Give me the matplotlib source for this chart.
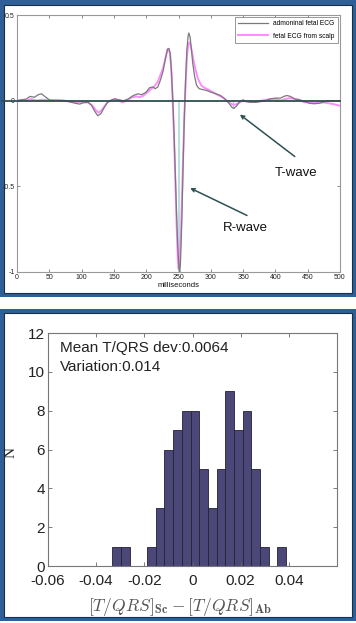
import matplotlib
matplotlib.use("Agg")
import matplotlib.pyplot as plt
import numpy as np
from matplotlib.patches import Rectangle

plt.rcParams['font.family'] = ['Liberation Sans', 'DejaVu Sans']
plt.rcParams['mathtext.fontset'] = 'cm'

# ---------------- data: ECG (top panel) ----------------
abd_t = [0, 8, 15, 20, 27, 33, 38, 43, 50, 60, 70, 80, 90, 97, 103, 110, 115, 120, 125, 130,
         135, 140, 147, 152, 158, 165, 172, 180, 187, 193, 200, 205, 210, 214, 218, 222, 226,
         230, 233, 235, 237, 239, 241, 243, 245, 247, 249, 251, 252, 253, 255, 257, 259, 261,
         263, 265, 266, 268, 270, 272, 275, 278, 282, 287, 293, 300, 308, 315, 322, 328, 333,
         336, 340, 345, 350, 355, 362, 370, 378, 385, 392, 400, 408, 413, 418, 423, 430, 437,
         445, 452, 460, 468, 475, 482, 490, 500]
abd_v = [0.0, 0.005, 0.01, 0.025, 0.02, 0.035, 0.04, 0.025, 0.005, 0.0, 0.0, -0.005, -0.015,
         -0.02, -0.012, -0.01, -0.025, -0.06, -0.088, -0.075, -0.04, -0.01, 0.005, 0.01, 0.005,
         0.0, 0.01, 0.03, 0.04, 0.035, 0.05, 0.075, 0.08, 0.07, 0.08, 0.12, 0.17, 0.25, 0.30,
         0.305, 0.28, 0.18, 0.02, -0.18, -0.42, -0.66, -0.86, -0.99, -1.0, -0.95, -0.72, -0.4,
         -0.1, 0.12, 0.3, 0.38, 0.395, 0.37, 0.30, 0.22, 0.14, 0.09, 0.07, 0.065, 0.06, 0.05,
         0.04, 0.03, 0.01, -0.015, -0.04, -0.045, -0.03, -0.005, 0.005, -0.005, -0.01, -0.01,
         -0.005, 0.0, 0.01, 0.015, 0.015, 0.025, 0.03, 0.025, 0.01, 0.005, -0.005, -0.015,
         -0.018, -0.015, -0.008, 0.0, 0.0, 0.0]

scalp_t = [0, 8, 15, 22, 30, 38, 45, 52, 60, 70, 80, 90, 100, 110, 117, 122, 126, 130, 135,
           140, 147, 152, 158, 163, 170, 178, 185, 190, 196, 202, 208, 213, 218, 222, 226, 230,
           233, 235, 237, 239, 241, 243, 245, 247, 249, 250, 251, 253, 255, 257, 259, 261, 263,
           265, 267, 269, 271, 274, 277, 280, 285, 290, 296, 303, 310, 318, 325, 330, 335, 340,
           345, 350, 355, 362, 370, 378, 385, 392, 400, 408, 415, 422, 430, 437, 445, 452, 460,
           468, 475, 482, 490, 500]
scalp_v = [0.0, 0.005, 0.0, 0.01, 0.0, 0.005, 0.005, 0.0, 0.005, 0.003, -0.005, -0.01, -0.008,
           -0.01, -0.03, -0.055, -0.07, -0.06, -0.035, -0.01, 0.005, 0.01, 0.0, -0.01, 0.0, 0.02,
           0.025, 0.02, 0.03, 0.05, 0.07, 0.085, 0.11, 0.15, 0.19, 0.25, 0.30, 0.30, 0.27, 0.17,
           0.0, -0.2, -0.45, -0.72, -0.93, -0.98, -0.97, -0.85, -0.62, -0.35, -0.1, 0.1, 0.25,
           0.33, 0.34, 0.32, 0.28, 0.22, 0.17, 0.13, 0.09, 0.075, 0.065, 0.05, 0.035, 0.02, 0.0,
           -0.015, -0.025, -0.02, -0.01, 0.0, -0.005, -0.008, -0.005, 0.0, 0.005, 0.01, 0.01, 0.0,
           0.01, 0.015, 0.01, 0.005, -0.01, -0.008, -0.01, -0.01, -0.01, -0.015, -0.02, -0.03]

ecg_labels = ["admoninal fetal ECG", "fetal ECG from scalp"]
r_peak_t = 250
t_peak_t, t_peak_v = 335, -0.04

# ---------------- data: histogram (bottom panel) ----------------
hist_min = -0.0333
hist_max = 0.0389
hist_counts = [1, 1, 0, 0, 1, 3, 6, 7, 8, 8, 5, 3, 5, 9, 7, 8, 5, 1, 0, 1]
stat_lines = ["Mean T/QRS dev:0.0064", "Variation:0.014"]

# ---------------- figure ----------------
W, H = 356, 623
fig = plt.figure(figsize=(W / 100, H / 100), dpi=100, facecolor='white')

frame_blue = '#2f5f96'

def frame(x0, y0, x1, y1, ix0, iy0, ix1, iy1):
    fig.patches.append(Rectangle((x0 / W, 1 - y1 / H), (x1 - x0) / W, (y1 - y0) / H,
                                 transform=fig.transFigure, facecolor=frame_blue,
                                 edgecolor='none', zorder=-20))
    fig.patches.append(Rectangle((ix0 / W, 1 - iy1 / H), (ix1 - ix0) / W, (iy1 - iy0) / H,
                                 transform=fig.transFigure, facecolor='white',
                                 edgecolor='#1b2d48', linewidth=0.8, zorder=-10))

frame(0, 0, 356, 297, 4, 5, 352, 293)
frame(0, 309, 356, 621, 4, 313, 352, 617)

# ---------------- top panel ----------------
ax1 = fig.add_axes([17 / W, 1 - 272 / H, 323 / W, 257 / H])
ax1.set_zorder(5)
ax1.plot(scalp_t, scalp_v, color='#ff8cff', lw=1.4, label=ecg_labels[1], zorder=3)
ax1.plot(abd_t, abd_v, color='#7a7a7a', lw=0.9, label=ecg_labels[0], zorder=4)
ax1.axhline(0, xmin=-0.045, xmax=1.0, color='#2f4f4f', lw=1.3, zorder=5, clip_on=False)
ax1.plot([r_peak_t, r_peak_t], [0, min(abd_v)], color='#a8dcdc', lw=1.2, zorder=2)
ax1.plot([t_peak_t, t_peak_t], [0, t_peak_v], color='#a8dcdc', lw=1.0, zorder=2)
ax1.set_xlim(0, 500)
ax1.set_ylim(-1, 0.5)
ax1.set_xticks(np.arange(0, 501, 50))
ax1.set_yticks([-1, -0.5, 0, 0.5])
ax1.set_yticklabels(['-1', '-0.5', '0', '0.5'])
ax1.tick_params(direction='in', length=2, width=0.5, labelsize=5, pad=1.5,
                top=True, right=True, colors='#555555', labelcolor='#222222')
for s in ax1.spines.values():
    s.set_color('#999999')
    s.set_linewidth(0.8)
ax1.set_xlabel('milliseconds', fontsize=5.5, labelpad=0.5, color='#111111')

h, l = ax1.get_legend_handles_labels()
leg = ax1.legend(h[::-1], l[::-1], loc='upper right', fontsize=4.8, handlelength=4.5,
                 frameon=True, fancybox=False, edgecolor='#888888', framealpha=1,
                 borderaxespad=0.3, borderpad=0.5, labelspacing=0.8)
leg.get_frame().set_linewidth(0.6)

arrow_kw = dict(arrowstyle='->', color='#2f5050', lw=1.1, mutation_scale=6,
                shrinkA=0, shrinkB=0)
ax1.annotate('', xy=(345, -0.081), xytext=(430, -0.326), arrowprops=arrow_kw, zorder=6)
ax1.annotate('', xy=(268, -0.51), xytext=(356, -0.67), arrowprops=arrow_kw, zorder=6)
ax1.text(432, -0.42, 'T-wave', fontsize=9.5, ha='center', va='center', color='#111111')
ax1.text(353, -0.744, 'R-wave', fontsize=9.5, ha='center', va='center', color='#111111')

# ---------------- bottom panel ----------------
ax2 = fig.add_axes([48 / W, 1 - 566 / H, 289 / W, 233 / H])
ax2.set_zorder(5)
edges = np.linspace(hist_min, hist_max, len(hist_counts) + 1)
ax2.bar(edges[:-1], hist_counts, width=np.diff(edges), align='edge',
        color='#4b4779', edgecolor='#222233', linewidth=0.6)
ax2.set_xlim(-0.06, 0.06)
ax2.set_ylim(0, 12)
ax2.set_xticks([-0.06, -0.04, -0.02, 0, 0.02, 0.04])
ax2.set_xticklabels(['-0.06', '-0.04', '-0.02', '0', '0.02', '0.04'])
ax2.set_yticks(np.arange(0, 13, 2))
ax2.tick_params(direction='in', length=3, width=0.6, labelsize=11, pad=2,
                top=True, right=True, colors='#666666', labelcolor='#222222')
ax2.tick_params(axis='x', pad=6)
for s in ax2.spines.values():
    s.set_color('#777777')
    s.set_linewidth(0.8)
ax2.text(-0.0549, 11.23, stat_lines[0], fontsize=11, ha='left', va='center', color='#222222')
ax2.text(-0.0549, 10.25, stat_lines[1], fontsize=11, ha='left', va='center', color='#222222')
ax2.set_xlabel(r'$[T/QRS]_{\mathbf{Sc}}-[T/QRS]_{\mathbf{Ab}}$', fontsize=12.5,
               color='#555555')
ax2.xaxis.set_label_coords(0.457, -0.13)
ax2.set_ylabel('N', fontsize=11, family='Liberation Serif', color='#222222')
ax2.yaxis.set_label_coords(-0.107, 0.485)

fig.savefig('out.png', dpi=100, facecolor='white')
